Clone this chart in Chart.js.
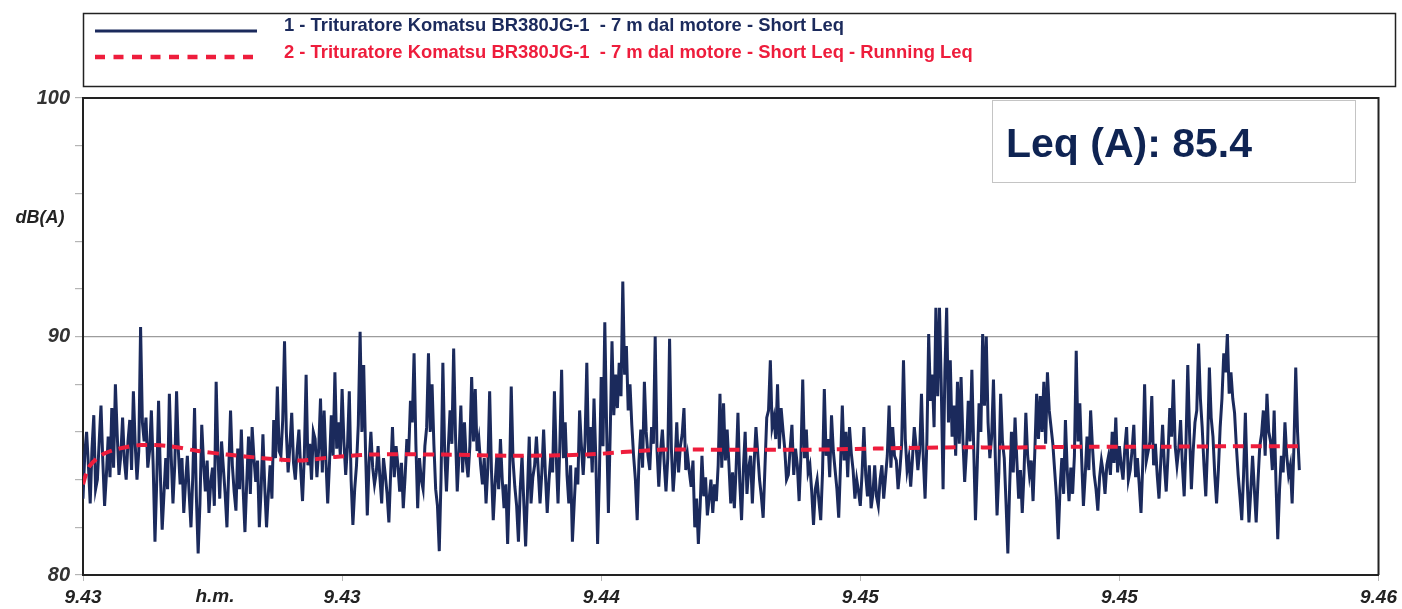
<!DOCTYPE html>
<html>
<head>
<meta charset="utf-8">
<script src="https://cdn.jsdelivr.net/npm/chart.js@4/dist/chart.umd.min.js"></script>
<style>
  html, body { margin: 0; padding: 0; background: #ffffff; }
  #wrap { width: 1402px; height: 609px; position: relative; }
</style>
</head>
<body>
<div id="wrap"><canvas id="c" width="1402" height="609"></canvas></div>
<script>
// Short Leq samples, dB(A): one every SAMPLE_STEP seconds from 9.43 ...
const SAMPLE_STEP = 0.5;
const shortLeq = [
  83.2, 86.0, 83.0, 86.7, 84.0, 87.1, 82.9, 85.8, 87.0, 88.0,
  84.2, 86.6, 84.0, 86.5, 87.7, 84.0, 90.4, 85.6, 84.5, 86.9,
  81.4, 87.3, 81.9, 84.9, 87.6, 83.0, 87.7, 83.8, 82.6, 85.0,
  82.0, 87.0, 80.9, 86.3, 83.5, 82.6, 84.5, 88.1, 83.2, 84.5,
  82.0, 86.9, 83.5, 85.3, 86.1, 81.8, 85.8, 86.2, 83.9, 82.0,
  85.9, 82.0, 84.6, 86.5, 87.9, 85.0, 89.8, 84.3, 86.8, 84.0,
  86.1, 83.1, 88.4, 85.5, 86.0, 84.1, 87.4, 86.9, 83.0, 86.7,
  88.5, 86.4, 87.8, 84.2, 87.7, 82.1, 84.6, 90.2, 88.8, 82.5,
  86.0, 83.8, 85.4, 83.0, 84.2, 82.2, 86.2, 85.4, 83.5, 82.8,
  85.7, 87.3, 89.3, 82.8, 84.0, 85.4, 89.3, 88.0, 83.6, 81.0,
  88.9, 83.5, 86.9, 89.5, 83.5, 87.1, 86.4, 84.1, 88.3, 87.8,
  85.7, 83.8, 83.0, 87.7, 82.3, 85.0, 85.7, 82.8, 81.3, 87.9,
  83.7, 81.4, 85.0, 81.2, 85.8, 84.1, 85.8, 83.0, 86.1, 82.6,
  85.0, 87.7, 83.0, 88.6, 86.4, 83.0, 81.4, 84.5, 86.9, 84.2,
  88.9, 86.2, 87.4, 81.3, 88.3, 90.6, 82.6, 89.8, 88.4, 88.9,
  92.3, 89.6, 88.0, 85.0, 82.3, 86.1, 88.1, 85.0, 86.2, 90.0,
  83.7, 86.1, 83.5, 89.9, 83.5, 86.4, 85.4, 87.0, 85.0, 83.7,
  82.0, 81.3, 85.0, 84.1, 83.2, 82.6, 83.1, 87.6, 87.2, 86.1,
  83.0, 82.8, 86.8, 82.3, 86.0, 84.5, 83.0, 86.2, 84.0, 82.4,
  86.6, 89.0, 86.6, 88.0, 87.0, 85.3, 84.2, 86.3, 85.3, 83.1,
  88.2, 86.1, 84.6, 82.1, 84.0, 82.3, 87.8, 85.7, 86.7, 84.4,
  82.4, 87.1, 86.0, 86.2, 84.4, 84.0, 82.9, 86.2, 83.3, 82.8,
  84.6, 82.9, 84.6, 84.1, 87.1, 86.2, 84.8, 84.4, 89.0, 84.4,
  83.7, 86.2, 84.4, 87.6, 83.2, 90.1, 88.4, 91.2, 91.2, 83.6,
  91.2, 89.0, 87.1, 88.1, 88.3, 83.9, 87.3, 88.6, 82.3, 87.2,
  90.1, 90.0, 84.9, 88.2, 82.5, 87.6, 84.9, 80.9, 86.0, 86.6,
  83.2, 82.6, 86.8, 84.2, 83.1, 87.6, 87.5, 88.1, 88.5, 86.2,
  84.4, 81.5, 84.9, 86.5, 83.1, 83.4, 89.4, 87.2, 82.9, 85.8,
  86.9, 84.2, 82.7, 84.8, 83.4, 85.0, 86.0, 86.6, 85.4, 84.0,
  86.2, 84.4, 86.3, 84.9, 82.6, 88.0, 85.2, 87.5, 85.5, 83.2,
  86.3, 83.5, 87.0, 88.2, 84.6, 86.5, 83.3, 88.8, 83.6, 86.4,
  89.7, 86.2, 83.3, 88.7, 85.8, 83.0, 86.2, 89.3, 90.1, 88.5,
  86.8, 84.2, 82.3, 86.8, 82.2, 85.0, 82.2, 85.4, 86.9, 87.6,
  85.6, 86.9, 81.5, 85.0, 86.4, 84.2, 83.0, 88.7, 84.4
];
// ... and the samples taken half a step after each of them
const shortLeqOffset = [
  85.1, 84.6, 85.3, 83.6, 85.6, 84.8, 84.2, 84.1, 84.5, 85.9,
  85.0, 84.8, 85.6, 84.4, 85.5, 85.2, 86.4, 86.6, 85.2, 84.6,
  84.0, 84.2, 83.4, 83.6, 85.0, 84.6, 85.2, 84.9, 83.9, 83.4,
  84.1, 83.3, 83.0, 84.7, 84.8, 83.9, 82.9, 85.0, 85.6, 83.4,
  84.4, 84.6, 82.7, 83.6, 83.6, 83.9, 83.4, 84.9, 84.8, 83.6,
  83.7, 83.4, 83.2, 84.9, 85.2, 86.5, 86.0, 85.4, 84.7, 85.2,
  84.4, 85.0, 84.6, 84.0, 85.7, 85.3, 84.3, 84.8, 84.7, 85.0,
  85.3, 85.0, 85.6, 85.4, 84.0, 83.6, 86.3, 86.0, 85.3, 84.7,
  84.5, 84.3, 84.1, 84.9, 83.4, 84.3, 84.1, 84.6, 84.7, 84.1,
  85.1, 86.4, 85.5, 84.9, 83.6, 86.2, 86.0, 85.5, 82.9, 84.1,
  85.2, 85.3, 85.5, 85.9, 85.1, 84.3, 84.8, 85.4, 85.6, 85.2,
  84.6, 84.9, 84.5, 84.4, 83.8, 83.6, 84.0, 83.8, 83.9, 84.8,
  82.9, 83.6, 83.0, 83.4, 83.0, 84.6, 84.4, 84.3, 84.2, 84.0,
  84.3, 85.0, 85.4, 84.9, 84.2, 84.6, 83.0, 83.8, 85.4, 85.6,
  84.9, 84.3, 84.9, 84.2, 85.4, 86.2, 85.9, 86.7, 87.0, 87.5,
  88.4, 86.9, 86.3, 84.0, 84.8, 84.5, 86.0, 84.4, 85.5, 85.3,
  85.2, 84.7, 84.9, 85.3, 84.6, 84.3, 85.9, 84.4, 84.3, 84.8,
  83.2, 82.9, 83.3, 82.5, 84.0, 83.8, 84.6, 84.5, 84.8, 84.6,
  84.3, 84.5, 83.9, 84.4, 83.4, 85.0, 84.7, 85.1, 83.3, 84.5,
  86.9, 86.2, 85.7, 85.3, 86.1, 84.0, 85.3, 84.2, 84.6, 85.0,
  84.9, 84.3, 83.5, 83.6, 83.1, 84.3, 85.0, 84.1, 85.2, 83.6,
  84.6, 84.8, 84.1, 85.1, 83.2, 83.5, 84.3, 84.2, 84.6, 83.4,
  83.3, 84.0, 83.2, 85.0, 84.5, 85.0, 83.6, 85.5, 85.7, 84.9,
  84.9, 85.4, 85.2, 84.9, 85.6, 87.3, 86.2, 87.5, 87.9, 88.5,
  86.4, 85.8, 85.0, 85.5, 85.7, 85.2, 85.6, 85.4, 84.6, 86.0,
  87.1, 86.4, 85.8, 85.0, 84.3, 85.6, 83.0, 83.7, 84.3, 84.8,
  84.4, 84.3, 85.0, 84.8, 85.2, 85.7, 86.0, 85.5, 86.9, 85.5,
  83.3, 83.6, 83.4, 84.4, 84.5, 85.0, 85.6, 84.9, 84.2, 84.4,
  85.4, 83.6, 84.1, 84.3, 84.6, 84.2, 84.7, 84.3, 84.6, 85.3,
  84.0, 85.2, 84.1, 83.8, 84.7, 84.8, 85.6, 84.6, 84.2, 84.8,
  84.6, 85.0, 85.8, 85.4, 85.3, 84.6, 85.5, 85.9, 85.2, 86.9,
  87.4, 84.6, 85.4, 86.6, 84.2, 84.4, 87.4, 88.5, 87.6, 87.4,
  85.4, 83.3, 84.2, 84.0, 83.5, 83.6, 83.9, 85.9, 85.0, 86.0,
  84.4, 83.9, 83.6, 84.3, 85.0, 84.6, 85.4, 86.0
];

// Overall Leq of the measurement, dB(A)
const LEQ_TOTAL = 85.4;

// Running Leq, seconds from start and dB(A)
const runningTimes = [0, 0.5, 1, 2, 3, 5, 8, 12, 16, 20, 25, 30, 35, 40, 50, 60, 70, 80, 90, 100, 110, 120, 130, 140, 150, 160, 169];
const runningLeq   = [83.8, 84.3, 84.6, 84.9, 85.1, 85.3, 85.45, 85.4, 85.2, 85.05, 84.9, 84.8, 84.95, 85.05, 85.05, 85.0, 85.05, 85.25, 85.25, 85.25, 85.3, 85.35, 85.35, 85.38, 85.38, 85.4, LEQ_TOTAL];

// Time axis (h.m.)
const TIME_SPAN = 180;
const TIME_TICK = 36;
const timeTickLabels = ['9.43', '9.43', '9.44', '9.45', '9.45', '9.46'];
const levelTickLabels = { 80: '80', 90: '90', 100: '100' };

const seriesLabels = [
  '1 - Trituratore Komatsu BR380JG-1  - 7 m dal motore - Short Leq',
  '2 - Trituratore Komatsu BR380JG-1  - 7 m dal motore - Short Leq - Running Leq'
];

const NAVY = '#1b2a5c';
const RED = '#ee1d3c';
const FONT = '"Liberation Sans", Arial, sans-serif';

// merge both sample sets into one time-ordered trace
const shortPoints = [];
shortLeq.forEach((v, i) => {
  shortPoints.push({ x: i * SAMPLE_STEP, y: v });
  if (i < shortLeqOffset.length) {
    shortPoints.push({ x: i * SAMPLE_STEP + SAMPLE_STEP / 2, y: shortLeqOffset[i] });
  }
});

// Frame, legend panel, axis captions and the Leq summary box
const decorations = {
  id: 'decorations',
  afterDraw(chart) {
    const ctx = chart.ctx;
    const a = chart.chartArea;
    ctx.save();

    // plot frame (top and right edges)
    ctx.strokeStyle = '#222';
    ctx.lineWidth = 2;
    ctx.beginPath();
    ctx.moveTo(a.left, a.top);
    ctx.lineTo(a.right, a.top);
    ctx.lineTo(a.right, a.bottom);
    ctx.stroke();

    // legend panel
    ctx.lineWidth = 1.5;
    ctx.strokeStyle = '#222';
    ctx.strokeRect(83.5, 13.5, 1312, 73);
    const ds = chart.data.datasets;
    ctx.lineCap = 'butt';
    ctx.strokeStyle = ds[0].borderColor;
    ctx.lineWidth = 3;
    ctx.setLineDash([]);
    ctx.beginPath(); ctx.moveTo(95, 31); ctx.lineTo(257, 31); ctx.stroke();
    ctx.strokeStyle = ds[1].borderColor;
    ctx.lineWidth = 4.5;
    ctx.setLineDash([10, 8.5]);
    ctx.beginPath(); ctx.moveTo(95, 57); ctx.lineTo(257, 57); ctx.stroke();
    ctx.setLineDash([]);
    ctx.font = 'bold 18.4px ' + FONT;
    ctx.textBaseline = 'middle';
    ctx.textAlign = 'left';
    ctx.fillStyle = ds[0].borderColor;
    ctx.fillText(ds[0].label, 284, 26);
    ctx.fillStyle = ds[1].borderColor;
    ctx.fillText(ds[1].label, 284, 53);

    // axis captions
    ctx.fillStyle = '#222';
    ctx.font = 'italic bold 18px ' + FONT;
    ctx.textAlign = 'center';
    ctx.fillText('dB(A)', 40, 218);
    ctx.font = 'italic bold 19px ' + FONT;
    ctx.fillText('h.m.', 215, 597);

    // Leq summary box
    ctx.fillStyle = '#ffffff';
    ctx.fillRect(992, 100, 363, 82);
    ctx.strokeStyle = '#c4c4c4';
    ctx.lineWidth = 1;
    ctx.strokeRect(992.5, 100.5, 363, 82);
    ctx.fillStyle = '#0f2453';
    ctx.font = 'bold 41px ' + FONT;
    ctx.textAlign = 'left';
    ctx.fillText('Leq (A): ' + LEQ_TOTAL.toFixed(1), 1006, 146);

    ctx.restore();
  }
};

new Chart(document.getElementById('c'), {
  type: 'line',
  data: {
    datasets: [
      {
        label: seriesLabels[0],
        data: shortPoints,
        borderColor: NAVY,
        borderWidth: 3,
        borderJoinStyle: 'miter',
        pointRadius: 0,
        tension: 0,
        order: 2
      },
      {
        label: seriesLabels[1],
        data: runningLeq.map((v, i) => ({ x: runningTimes[i], y: v })),
        borderColor: RED,
        borderWidth: 4,
        borderDash: [11, 7],
        pointRadius: 0,
        tension: 0.3,
        order: 1
      }
    ]
  },
  options: {
    responsive: false,
    animation: false,
    devicePixelRatio: 1,
    layout: { padding: { top: 98, right: 22, left: 0, bottom: 0 } },
    plugins: { legend: { display: false }, tooltip: { enabled: false } },
    scales: {
      x: {
        type: 'linear',
        min: 0,
        max: TIME_SPAN,
        afterFit(s) { s.height = 34; },
        ticks: {
          stepSize: TIME_TICK,
          autoSkip: false,
          maxRotation: 0,
          padding: 5,
          color: '#222',
          font: { family: FONT, size: 19, style: 'italic', weight: 'bold' },
          callback: v => timeTickLabels[Math.round(v / TIME_TICK)]
        },
        grid: { drawOnChartArea: false, tickLength: 6, tickColor: '#bbb' },
        border: { color: '#222', width: 2 }
      },
      y: {
        min: 80,
        max: 100,
        afterFit(s) { s.width = 83; },
        ticks: {
          stepSize: 2,
          autoSkip: false,
          padding: 5,
          color: '#333',
          font: { family: FONT, size: 20, style: 'italic', weight: 'bold' },
          callback: v => levelTickLabels[v] ?? ''
        },
        grid: {
          color: c => (c.tick && c.tick.value === 90) ? '#9c9c9c' : 'rgba(0,0,0,0)',
          lineWidth: 1.2,
          tickLength: 8,
          tickColor: '#b5b5b5'
        },
        border: { color: '#222', width: 2 }
      }
    }
  },
  plugins: [decorations]
});
</script>
</body>
</html>
